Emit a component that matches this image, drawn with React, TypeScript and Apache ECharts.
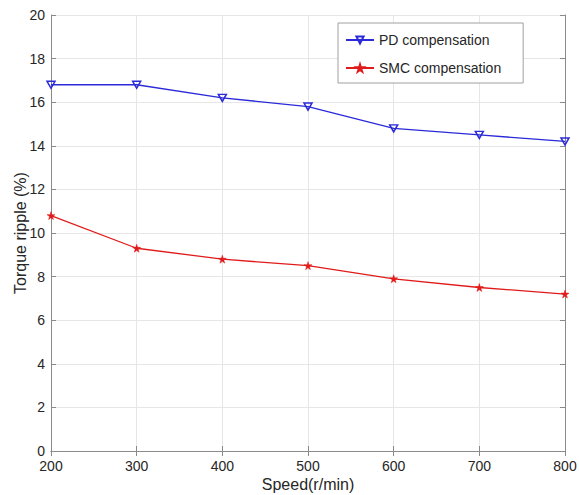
import React, { useEffect, useRef } from "react";
import * as echarts from "echarts";

const speeds = [200, 300, 400, 500, 600, 700, 800];
const pdValues = [16.8, 16.8, 16.2, 15.8, 14.8, 14.5, 14.2];
const smcValues = [10.8, 9.3, 8.8, 8.5, 7.9, 7.5, 7.2];
const seriesNames = ["PD compensation", "SMC compensation"];

const BLUE = "#2a2ad8";
const RED = "#e01b1b";
const TEXT = "#262626";
const AXIS = "#8a8a8a";
const GRID = "#e6e6e6";
const FONT = "'Liberation Sans', Arial, sans-serif";

const DOWN_TRI = "path://M0,0 L10,0 L5,9 Z";
const STAR = "path://M50,0 L61,35 L98,35 L68,57 L79,91 L50,70 L21,91 L32,57 L2,35 L39,35 Z";

export default function App() {
  const ref = useRef<HTMLDivElement>(null);
  useEffect(() => {
    if (!ref.current) return;
    const chart = echarts.init(ref.current, undefined, { renderer: "svg" });
    const hiddenAxisCommon = {
      axisLine: { show: true, lineStyle: { color: AXIS, width: 1 } },
      axisTick: { show: true, inside: true, length: 5, lineStyle: { color: AXIS } },
      axisLabel: { show: false },
      splitLine: { show: false },
    };
    chart.setOption({
      animation: false,
      backgroundColor: "#ffffff",
      textStyle: { fontFamily: FONT },
      grid: {
        left: 51,
        right: 14,
        top: 15,
        bottom: 44,
        containLabel: false,
        outerBoundsMode: "none",
      },
      legend: {
        orient: "vertical",
        left: 338,
        top: 23,
        padding: [9, 22, 7, 7],
        itemGap: 12,
        itemWidth: 28,
        itemHeight: 9,
        borderColor: "#a0a0a0",
        borderWidth: 1,
        backgroundColor: "#ffffff",
        textStyle: { fontSize: 14, color: TEXT, fontFamily: FONT, lineHeight: 16 },
        data: seriesNames,
      },
      xAxis: [
        {
          type: "value",
          min: 200,
          max: 800,
          interval: 100,
          position: "bottom",
          name: "Speed(r/min)",
          nameLocation: "middle",
          nameGap: 25,
          nameMoveOverlap: false,
          nameTextStyle: { fontSize: 16, color: TEXT, fontFamily: FONT },
          axisLine: { show: true, lineStyle: { color: AXIS, width: 1 } },
          axisTick: { show: true, inside: true, length: 5, lineStyle: { color: AXIS } },
          axisLabel: { fontSize: 14, color: TEXT, margin: 8, fontFamily: FONT },
          splitLine: { show: true, lineStyle: { color: GRID, width: 1 } },
        },
        {
          type: "value",
          min: 200,
          max: 800,
          interval: 100,
          position: "top",
          ...hiddenAxisCommon,
        },
      ],
      yAxis: [
        {
          type: "value",
          min: 0,
          max: 20,
          interval: 2,
          position: "left",
          name: "Torque ripple (%)",
          nameLocation: "middle",
          nameGap: 23,
          nameMoveOverlap: false,
          nameRotate: 90,
          nameTextStyle: { fontSize: 16, color: TEXT, fontFamily: FONT },
          axisLine: { show: true, lineStyle: { color: AXIS, width: 1 } },
          axisTick: { show: true, inside: true, length: 5, lineStyle: { color: AXIS } },
          axisLabel: { fontSize: 14, color: TEXT, margin: 6, fontFamily: FONT },
          splitLine: { show: true, lineStyle: { color: GRID, width: 1 } },
        },
        {
          type: "value",
          min: 0,
          max: 20,
          interval: 2,
          position: "right",
          ...hiddenAxisCommon,
        },
      ],
      series: [
        {
          name: seriesNames[0],
          type: "line",
          data: speeds.map((s, i) => [s, pdValues[i]]),
          symbol: DOWN_TRI,
          symbolSize: [8, 7],
          showSymbol: true,
          lineStyle: { color: BLUE, width: 1.3 },
          itemStyle: { color: "rgba(255,255,255,0)", borderColor: BLUE, borderWidth: 1.5 },
          z: 3,
        },
        {
          name: seriesNames[1],
          type: "line",
          data: speeds.map((s, i) => [s, smcValues[i]]),
          symbol: STAR,
          symbolSize: 8,
          showSymbol: true,
          lineStyle: { color: RED, width: 1.3 },
          itemStyle: { color: RED, borderColor: RED, borderWidth: 0.5 },
          z: 3,
        },
      ],
    });
    return () => chart.dispose();
  }, []);
  return (
    <div
      ref={ref}
      style={{ position: "fixed", left: 0, top: 0, width: 579, height: 495 }}
    />
  );
}
